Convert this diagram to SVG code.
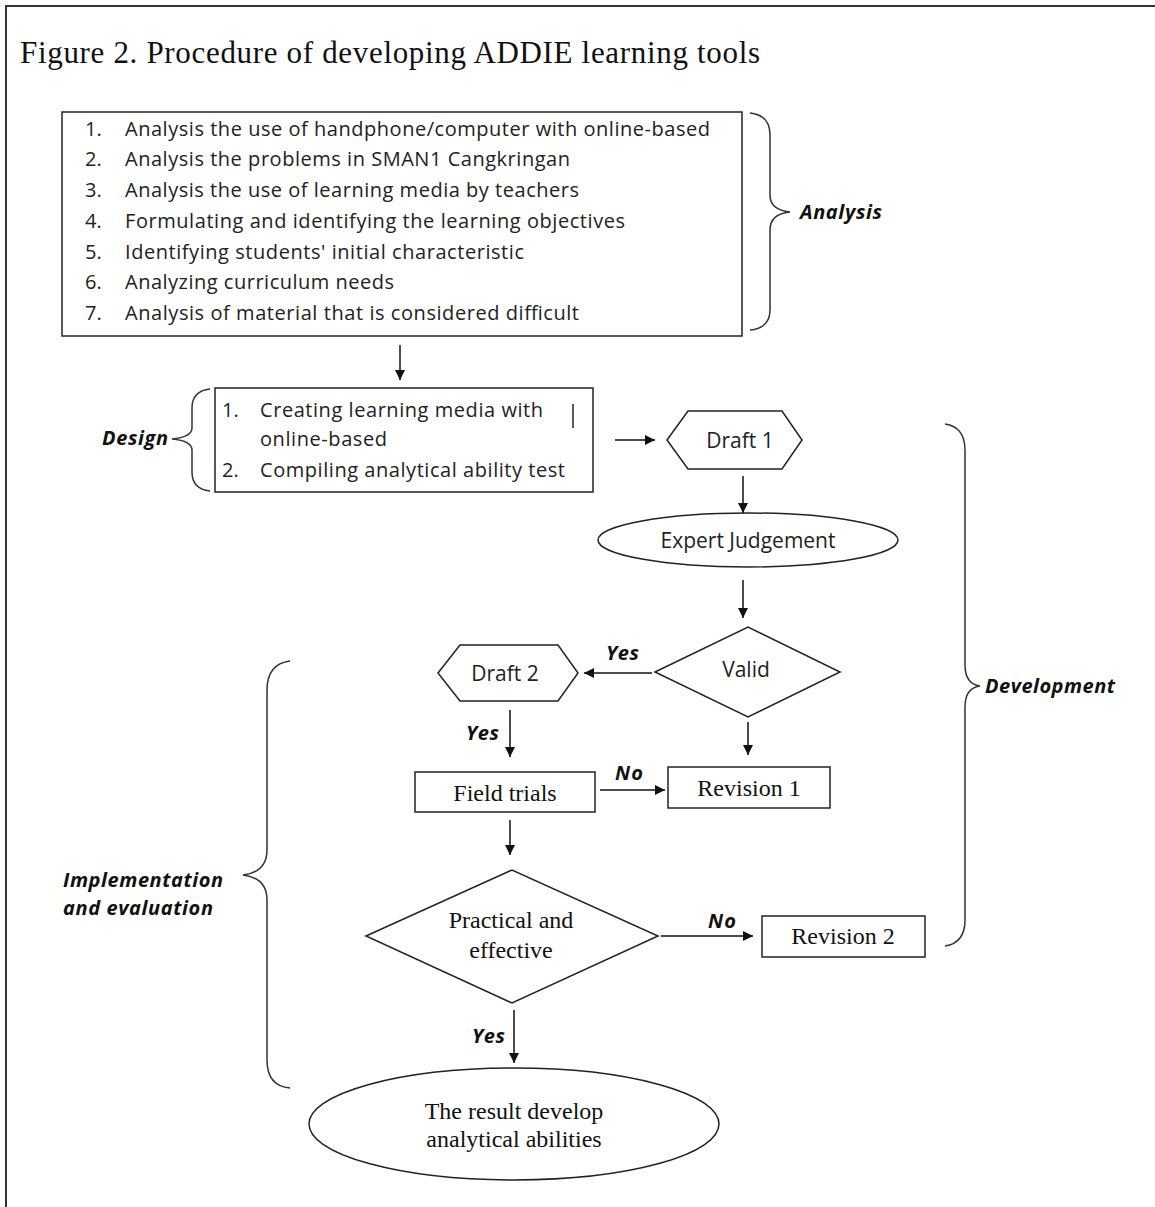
<svg xmlns="http://www.w3.org/2000/svg" width="1155" height="1207" viewBox="0 0 1155 1207">
<style>
.shape{fill:#fff;stroke:#222;stroke-width:1.5}
.brace{fill:none;stroke:#333;stroke-width:1.5}
.conn{fill:none;stroke:#111;stroke-width:1.5}
.sans{font-family:"Open Sans","Noto Sans",sans-serif;font-size:20px;fill:#222}
.node{font-family:"Open Sans","Noto Sans",sans-serif;font-size:21px;fill:#222}
.serif{font-family:"Liberation Serif","Times New Roman",serif;font-size:24px;fill:#111}
.lab{font-family:"Open Sans","Noto Sans",sans-serif;font-size:20px;font-weight:bold;font-style:italic;fill:#111}
.mid{text-anchor:middle}
</style>
<defs>
<marker id="ah" viewBox="0 0 10 10" refX="10" refY="5" markerWidth="11" markerHeight="10" markerUnits="userSpaceOnUse" orient="auto">
<path d="M0,0 L10,5 L0,10 Z" fill="#111"/>
</marker>
</defs>
<rect width="1155" height="1207" fill="#fff"/>
<g id="frame">
<path d="M6,1207 L6,6 L1155,6" fill="none" stroke="#333" stroke-width="2"/>
</g>
<text id="title" x="20" y="63" font-family="Liberation Serif, Times New Roman, serif" font-size="31" fill="#111" textLength="740">Figure 2. Procedure of developing ADDIE learning tools</text>

<g id="analysis">
<rect class="shape" x="62" y="112" width="680" height="224"/>
<g class="sans">
<text x="85" y="136">1.</text><text x="125" y="136" textLength="585">Analysis the use of handphone/computer with online-based</text>
<text x="85" y="166">2.</text><text x="125" y="166" textLength="445">Analysis the problems in SMAN1 Cangkringan</text>
<text x="85" y="197">3.</text><text x="125" y="197" textLength="454">Analysis the use of learning media by teachers</text>
<text x="85" y="228">4.</text><text x="125" y="228" textLength="500">Formulating and identifying the learning objectives</text>
<text x="85" y="259">5.</text><text x="125" y="259" textLength="399">Identifying students' initial characteristic</text>
<text x="85" y="289">6.</text><text x="125" y="289" textLength="269">Analyzing curriculum needs</text>
<text x="85" y="320">7.</text><text x="125" y="320" textLength="454">Analysis of material that is considered difficult</text>
</g>
</g>
<g id="analysis-brace">
<path class="brace" d="M750,113 Q770,115 770,135 L770,195 Q770,210 790,212 Q770,214 770,230 L770,310 Q770,328 750,330"/>
<text class="lab" x="800" y="219" textLength="82">Analysis</text>
</g>

<g id="design">
<rect class="shape" x="215" y="388" width="378" height="104"/>
<g class="sans">
<text x="222" y="417">1.</text><text x="260" y="417" textLength="283">Creating learning media with</text>
<text x="260" y="446" textLength="127">online-based</text>
<text x="222" y="477">2.</text><text x="260" y="477" textLength="305">Compiling analytical ability test</text>
</g>
<line x1="573" y1="404" x2="573" y2="428" stroke="#222" stroke-width="1.5"/>
</g>
<g id="design-brace">
<path class="brace" d="M210,389 Q192,391 192,408 L192,428 Q192,437 172,439 Q192,441 192,450 L192,472 Q192,489 210,491"/>
<text class="lab" x="102" y="445" textLength="66">Design</text>
</g>

<g id="draft1">
<polygon class="shape" points="667,440 688,411 782,411 802,440 782,469 688,469"/>
<text class="node mid" x="740" y="448">Draft 1</text>
</g>
<g id="expert">
<ellipse class="shape" cx="748" cy="540" rx="150" ry="27"/>
<text class="node mid" x="748" y="548">Expert Judgement</text>
</g>
<g id="valid">
<polygon class="shape" points="655,672 748,627 840,672 748,717"/>
<text class="node mid" x="746" y="677">Valid</text>
</g>
<g id="draft2">
<polygon class="shape" points="438,673 460,645 558,645 578,673 558,701 460,701"/>
<text class="node mid" x="505" y="681">Draft 2</text>
</g>
<g id="field">
<rect class="shape" x="415" y="772" width="180" height="40"/>
<text class="serif mid" x="505" y="801">Field trials</text>
</g>
<g id="rev1">
<rect class="shape" x="668" y="767" width="162" height="41"/>
<text class="serif mid" x="749" y="796">Revision 1</text>
</g>
<g id="practical">
<polygon class="shape" points="366,936 512,870 658,936 512,1003"/>
<text class="serif mid" x="511" y="928">Practical and</text>
<text class="serif mid" x="511" y="958">effective</text>
</g>
<g id="rev2">
<rect class="shape" x="762" y="916" width="163" height="41"/>
<text class="serif mid" x="843" y="944">Revision 2</text>
</g>
<g id="result">
<ellipse class="shape" cx="514" cy="1124" rx="205" ry="56"/>
<text class="serif mid" x="514" y="1119">The result develop</text>
<text class="serif mid" x="514" y="1147">analytical abilities</text>
</g>

<g id="dev-brace">
<path class="brace" d="M945,424 Q965,427 965,450 L965,665 Q965,684 980,686 Q965,688 965,707 L965,920 Q965,943 945,946"/>
<text class="lab" x="985" y="693" textLength="130">Development</text>
</g>
<g id="impl-brace">
<path class="brace" d="M290,661 Q267,664 267,690 L267,850 Q267,872 243,875 Q267,878 267,900 L267,1060 Q267,1086 290,1088"/>
<text class="lab" x="63" y="887" textLength="160">Implementation</text>
<text class="lab" x="63" y="915" textLength="150">and evaluation</text>
</g>

<g id="connectors">
<line class="conn" x1="400" y1="345" x2="400" y2="380" marker-end="url(#ah)"/>
<line class="conn" x1="615" y1="440" x2="655" y2="440" marker-end="url(#ah)"/>
<line class="conn" x1="743" y1="476" x2="743" y2="513" marker-end="url(#ah)"/>
<line class="conn" x1="743" y1="580" x2="743" y2="618" marker-end="url(#ah)"/>
<line class="conn" x1="652" y1="673" x2="584" y2="673" marker-end="url(#ah)"/>
<text class="lab" x="606" y="660" textLength="33">Yes</text>
<line class="conn" x1="510" y1="710" x2="510" y2="757" marker-end="url(#ah)"/>
<text class="lab" x="466" y="740" textLength="33">Yes</text>
<line class="conn" x1="748" y1="722" x2="748" y2="755" marker-end="url(#ah)"/>
<line class="conn" x1="600" y1="790" x2="665" y2="790" marker-end="url(#ah)"/>
<text class="lab" x="615" y="780" textLength="28">No</text>
<line class="conn" x1="510" y1="820" x2="510" y2="855" marker-end="url(#ah)"/>
<line class="conn" x1="661" y1="936" x2="753" y2="936" marker-end="url(#ah)"/>
<text class="lab" x="708" y="928" textLength="28">No</text>
<line class="conn" x1="514" y1="1010" x2="514" y2="1063" marker-end="url(#ah)"/>
<text class="lab" x="472" y="1043" textLength="33">Yes</text>
</g>
</svg>
